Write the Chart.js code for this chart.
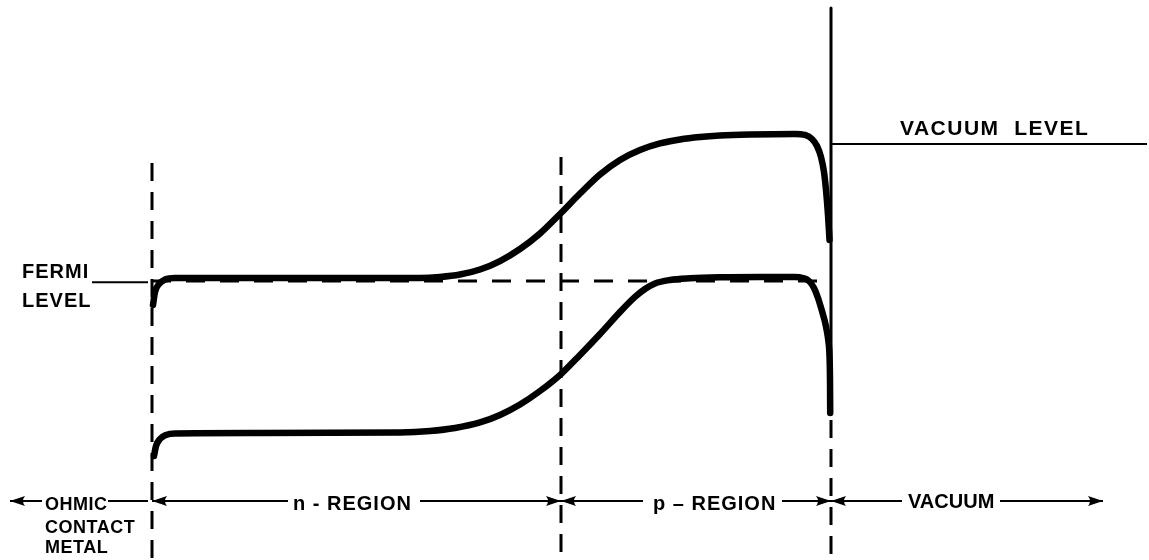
<!DOCTYPE html>
<html>
<head>
<meta charset="utf-8">
<title>Energy band diagram</title>
<script src="https://cdn.jsdelivr.net/npm/chart.js@4.4.1/dist/chart.umd.min.js"></script>
<style>
  html, body { margin: 0; padding: 0; background: #ffffff; }
  #wrap { width: 1149px; height: 560px; position: relative; }
</style>
</head>
<body>
<div id="wrap"><canvas id="bands"></canvas></div>
<script>
// Position along the device (arbitrary length units); metal/semiconductor contact at 0.
// Energy in eV relative to the Fermi level.
const interfaceX = [0, 4.09, 6.79];          // ohmic contact | n/p junction | surface
const fermiEnergy = 0;
const vacuumEnergy = 1.229;

// Conduction band edge
const cbX = [0.01, 0.03, 0.07, 0.13, 0.23, 1.48, 2.68, 2.88, 3.08, 3.28, 3.48, 3.68, 3.88, 4.09,
             4.28, 4.48, 4.68, 4.88, 5.08, 5.28, 5.48, 5.68, 5.98, 6.43, 6.53, 6.60, 6.65, 6.69,
             6.72, 6.74, 6.76, 6.775];
const cbE = [-0.214, -0.098, -0.026, 0.014, 0.028, 0.028, 0.028, 0.037, 0.059, 0.104, 0.180, 0.288, 0.427, 0.611,
             0.785, 0.956, 1.086, 1.175, 1.234, 1.270, 1.292, 1.305, 1.314, 1.319, 1.310, 1.274, 1.211, 1.113,
             0.978, 0.817, 0.593, 0.369];

// Valence band edge
const vbX = [0.02, 0.04, 0.08, 0.14, 0.23, 0.98, 2.48, 2.78, 3.03, 3.28, 3.48, 3.68, 3.88, 4.09,
             4.28, 4.48, 4.68, 4.83, 4.93, 5.03, 5.18, 5.38, 5.68, 6.08, 6.43, 6.51, 6.57, 6.62,
             6.66, 6.70, 6.73, 6.75, 6.765, 6.775, 6.78, 6.782];
const vbE = [-1.568, -1.478, -1.415, -1.379, -1.366, -1.362, -1.357, -1.344, -1.317, -1.267, -1.200, -1.106, -0.985, -0.833,
             -0.662, -0.474, -0.277, -0.142, -0.071, -0.021, 0.010, 0.025, 0.034, 0.037, 0.037, 0.028, 0.001, -0.062,
             -0.151, -0.268, -0.367, -0.456, -0.546, -0.671, -0.887, -1.182];

// Region dimension arrows along the bottom
const dimensionEnergy = -1.971;
const dimensionSegments = [[-1.42, -1.10], [-0.44, -0.04], [0, 1.36], [2.68, 4.09],
                           [4.09, 4.91], [6.30, 6.79], [6.79, 7.50], [8.48, 9.51]];
const dimensionHeads = ['start', null, 'start', 'end', 'start', 'end', 'start', 'end'];

// Lettering
const labelText = ['FERMI', 'LEVEL', 'VACUUM  LEVEL', 'OHMIC', 'CONTACT', 'METAL',
                   'n - REGION', 'p \u2013 REGION', 'VACUUM'];
const labelAnchorX = [-1.30, -1.30, 7.48, -1.07, -1.07, -1.07, 1.41, 5.01, 7.56];
const labelAnchorE = [0.028, -0.232, 1.310, -2.052, -2.258, -2.437, -2.052, -2.052, -2.034];
const labelSize = [20, 20, 21, 18, 18, 18, 20, 20, 20];
const labelSpacing = [1, 1, 1.5, 0.5, 0.5, 0.5, 1, 1, 0];

const INK = '#000000';
const pts = (xs, ys) => xs.map((x, i) => ({ x, y: ys[i] }));
const seg = (x0, y0, x1, y1) => [{ x: x0, y: y0 }, { x: x1, y: y1 }];

const base = { showLine: true, pointRadius: 0, pointHoverRadius: 0, borderColor: INK,
               backgroundColor: INK, fill: false, borderCapStyle: 'butt', borderJoinStyle: 'round' };

const datasets = [];
// Ohmic contact and junction boundaries (dashed)
datasets.push({ ...base, data: seg(interfaceX[0], 1.059, interfaceX[0], -2.5), borderWidth: 3, borderDash: [18, 11] });
datasets.push({ ...base, data: seg(interfaceX[1], 1.113, interfaceX[1], -2.5), borderWidth: 3, borderDash: [18, 11] });
// Surface: solid above, dashed below the band edge
datasets.push({ ...base, data: seg(interfaceX[2], 2.448, interfaceX[2], -1.182), borderWidth: 3 });
datasets.push({ ...base, data: seg(interfaceX[2], -1.245, interfaceX[2], -2.5), borderWidth: 3, borderDash: [18, 11] });
// Fermi level
datasets.push({ ...base, data: seg(interfaceX[0], fermiEnergy, interfaceX[2], fermiEnergy), borderWidth: 3, borderDash: [19, 15] });
datasets.push({ ...base, data: seg(-0.60, fermiEnergy - 0.01, -0.04, fermiEnergy - 0.01), borderWidth: 2 });
// Vacuum level
datasets.push({ ...base, data: seg(interfaceX[2], vacuumEnergy, 9.95, vacuumEnergy), borderWidth: 2 });
// Band edges
datasets.push({ ...base, data: pts(cbX, cbE), borderWidth: 6.5, cubicInterpolationMode: 'monotone', borderCapStyle: 'round' });
datasets.push({ ...base, data: pts(vbX, vbE), borderWidth: 6.5, cubicInterpolationMode: 'monotone', borderCapStyle: 'round' });
// Dimension arrows
dimensionSegments.forEach((s, i) => {
  datasets.push({ ...base, data: seg(s[0], dimensionEnergy, s[1], dimensionEnergy), borderWidth: 2, arrowHead: dimensionHeads[i] });
});

// Filled arrowheads at the flagged ends of dimension lines
const arrowHeads = {
  id: 'arrowHeads',
  afterDatasetsDraw(chart) {
    const { ctx, scales: { x, y } } = chart;
    chart.data.datasets.forEach(ds => {
      if (!ds.arrowHead) return;
      const a = ds.data[0], b = ds.data[ds.data.length - 1];
      const tip = ds.arrowHead === 'start' ? a : b;
      const from = ds.arrowHead === 'start' ? b : a;
      const tx = x.getPixelForValue(tip.x), ty = y.getPixelForValue(tip.y);
      const fx = x.getPixelForValue(from.x), fy = y.getPixelForValue(from.y);
      const ang = Math.atan2(ty - fy, tx - fx);
      const len = 15, half = 5;
      ctx.save();
      ctx.translate(tx, ty);
      ctx.rotate(ang);
      ctx.fillStyle = INK;
      ctx.beginPath();
      ctx.moveTo(0, 0);
      ctx.lineTo(-len, -half);
      ctx.quadraticCurveTo(-len + 4, 0, -len, half);
      ctx.closePath();
      ctx.fill();
      ctx.restore();
    });
  }
};

// Region and level lettering
const lettering = {
  id: 'lettering',
  afterDatasetsDraw(chart) {
    const { ctx, scales: { x, y } } = chart;
    ctx.save();
    ctx.fillStyle = INK;
    ctx.textAlign = 'left';
    ctx.textBaseline = 'alphabetic';
    labelText.forEach((t, i) => {
      ctx.font = `bold ${labelSize[i]}px "Liberation Sans", Arial, sans-serif`;
      if ('letterSpacing' in ctx) ctx.letterSpacing = labelSpacing[i] + 'px';
      ctx.fillText(t, x.getPixelForValue(labelAnchorX[i]), y.getPixelForValue(labelAnchorE[i]));
    });
    ctx.restore();
  }
};

new Chart(document.getElementById('bands'), {
  type: 'scatter',
  data: { datasets },
  options: {
    responsive: true,
    maintainAspectRatio: false,
    animation: false,
    layout: { padding: 0 },
    scales: {
      x: { type: 'linear', min: -1.52, max: 9.97, display: false },
      y: { type: 'linear', min: -2.5, max: 2.52, display: false }
    },
    plugins: { legend: { display: false }, tooltip: { enabled: false } },
    elements: { line: { tension: 0 } }
  },
  plugins: [arrowHeads, lettering]
});
</script>
</body>
</html>
